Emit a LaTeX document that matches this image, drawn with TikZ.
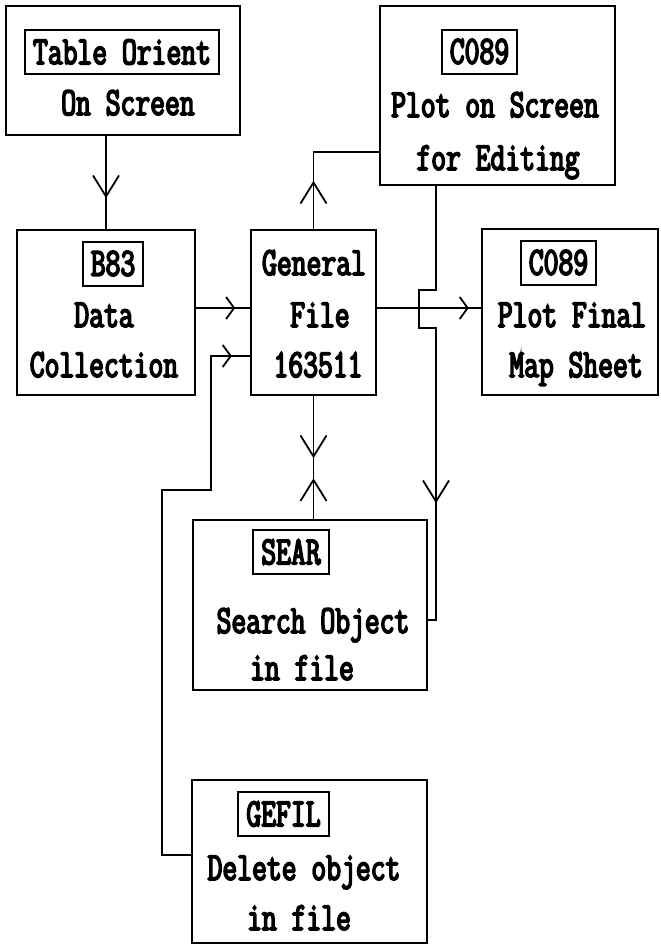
\documentclass[tikz,border=0pt]{standalone}
\usepackage{fontspec}
\newfontfamily\dotfont{Latin Modern Mono}[FakeStretch=0.72,FakeBold=4]
\usetikzlibrary{arrows.meta}
\usetikzlibrary{decorations.markings}

\begin{document}
\begin{tikzpicture}[x=1pt,y=-1pt,line join=miter,
	font=\dotfont\fontsize{40}{44}\selectfont,
	vt/.tip={Straight Barb[length=21pt,width=26pt]},
	ht/.tip={Straight Barb[length=8pt,width=22pt]},
	box/.style={draw,line width=2.4pt,inner sep=0pt},
	tag/.style={draw,line width=2pt,inner xsep=8pt,inner ysep=0pt,minimum height=44pt},
	txt/.style={anchor=base,inner sep=0pt},
	flow/.style={line width=1.8pt},
	mid/.style 2 args={postaction={decorate},decoration={markings,mark=at position #1 with {\arrow{#2}}}}]
	\useasboundingbox(0,0)rectangle(661,945);
	% boxes
	\node[box,minimum width=234pt,minimum height=129pt](tab)at(123,70.5){};
	\node[tag](tabtag)at(122,52){Table Orient};
	\node[txt](tabtxt)at(128,115){On Screen};
	\node[box,minimum width=235pt,minimum height=179pt](cplot)at(497.5,95.5){};
	\node[tag](cplottag)at(479.5,51.5){C089};
	\node[txt](cplottxta)at(495,117){Plot on Screen};
	\node[txt](cplottxtb)at(498,170){for Editing};
	\node[box,minimum width=178pt,minimum height=165pt](b83)at(106,312.5){};
	\node[tag](b83tag)at(113,263.5){B83};
	\node[txt](b83txta)at(104,327){Data};
	\node[txt](b83txtb)at(104,377){Collection};
	\node[box,minimum width=125pt,minimum height=165pt](gen)at(313.5,312.5){};
	\node[txt](gentxta)at(314,275){General};
	\node[txt](gentxtb)at(320,327){File};
	\node[txt](gentxtc)at(318,377){163511};
	\node[box,minimum width=176pt,minimum height=166pt](fin)at(570,312){};
	\node[tag](fintag)at(558.5,262.5){C089};
	\node[txt](fintxta)at(572,327){Plot Final};
	\node[txt](fintxtb)at(576,377){Map Sheet};
	\node[box,minimum width=234pt,minimum height=170pt](sear)at(310,605){};
	\node[tag](seartag)at(291,552){SEAR};
	\node[txt](seartxta)at(313,633){Search Object};
	\node[txt](seartxtb)at(302,680){in file};
	\node[box,minimum width=235pt,minimum height=163pt](gef)at(309.5,861.5){};
	\node[tag](geftag)at(283.5,814){GEFIL};
	\node[txt](geftxta)at(304,880){Delete object};
	\node[txt](geftxtb)at(299,930){in file};
	% connectors
	\draw[flow,mid={62pt}{vt}](b83.north|-tab.south)--(b83.north);
	\draw[flow,mid={48pt}{vt}](gen.north)|-(cplot.west|-0,152);
	\draw[flow,mid={39pt}{ht}](b83.east|-0,308)--(gen.west|-0,308);
	\draw[flow,mid={-12pt}{ht}](gen.east|-0,308)--(fin.west|-0,308);
	\draw[flow,mid={-18pt}{ht}](gef.west|-0,855)-|(162,490)-|(211,356)--(gen.west|-0,356);
	\draw[flow,mid={351pt}{vt}](cplot.south-|436,0)--(436,290)-|(419,328)-|(436,620)--(sear.east|-0,620);
	\draw[flow,postaction={decorate},decoration={markings,mark=at position 62pt with {\arrow{vt}},mark=at position 82pt with {\arrowreversed{vt}}}](gen.south)--(gen.south|-sear.north);
\end{tikzpicture}
\end{document}
